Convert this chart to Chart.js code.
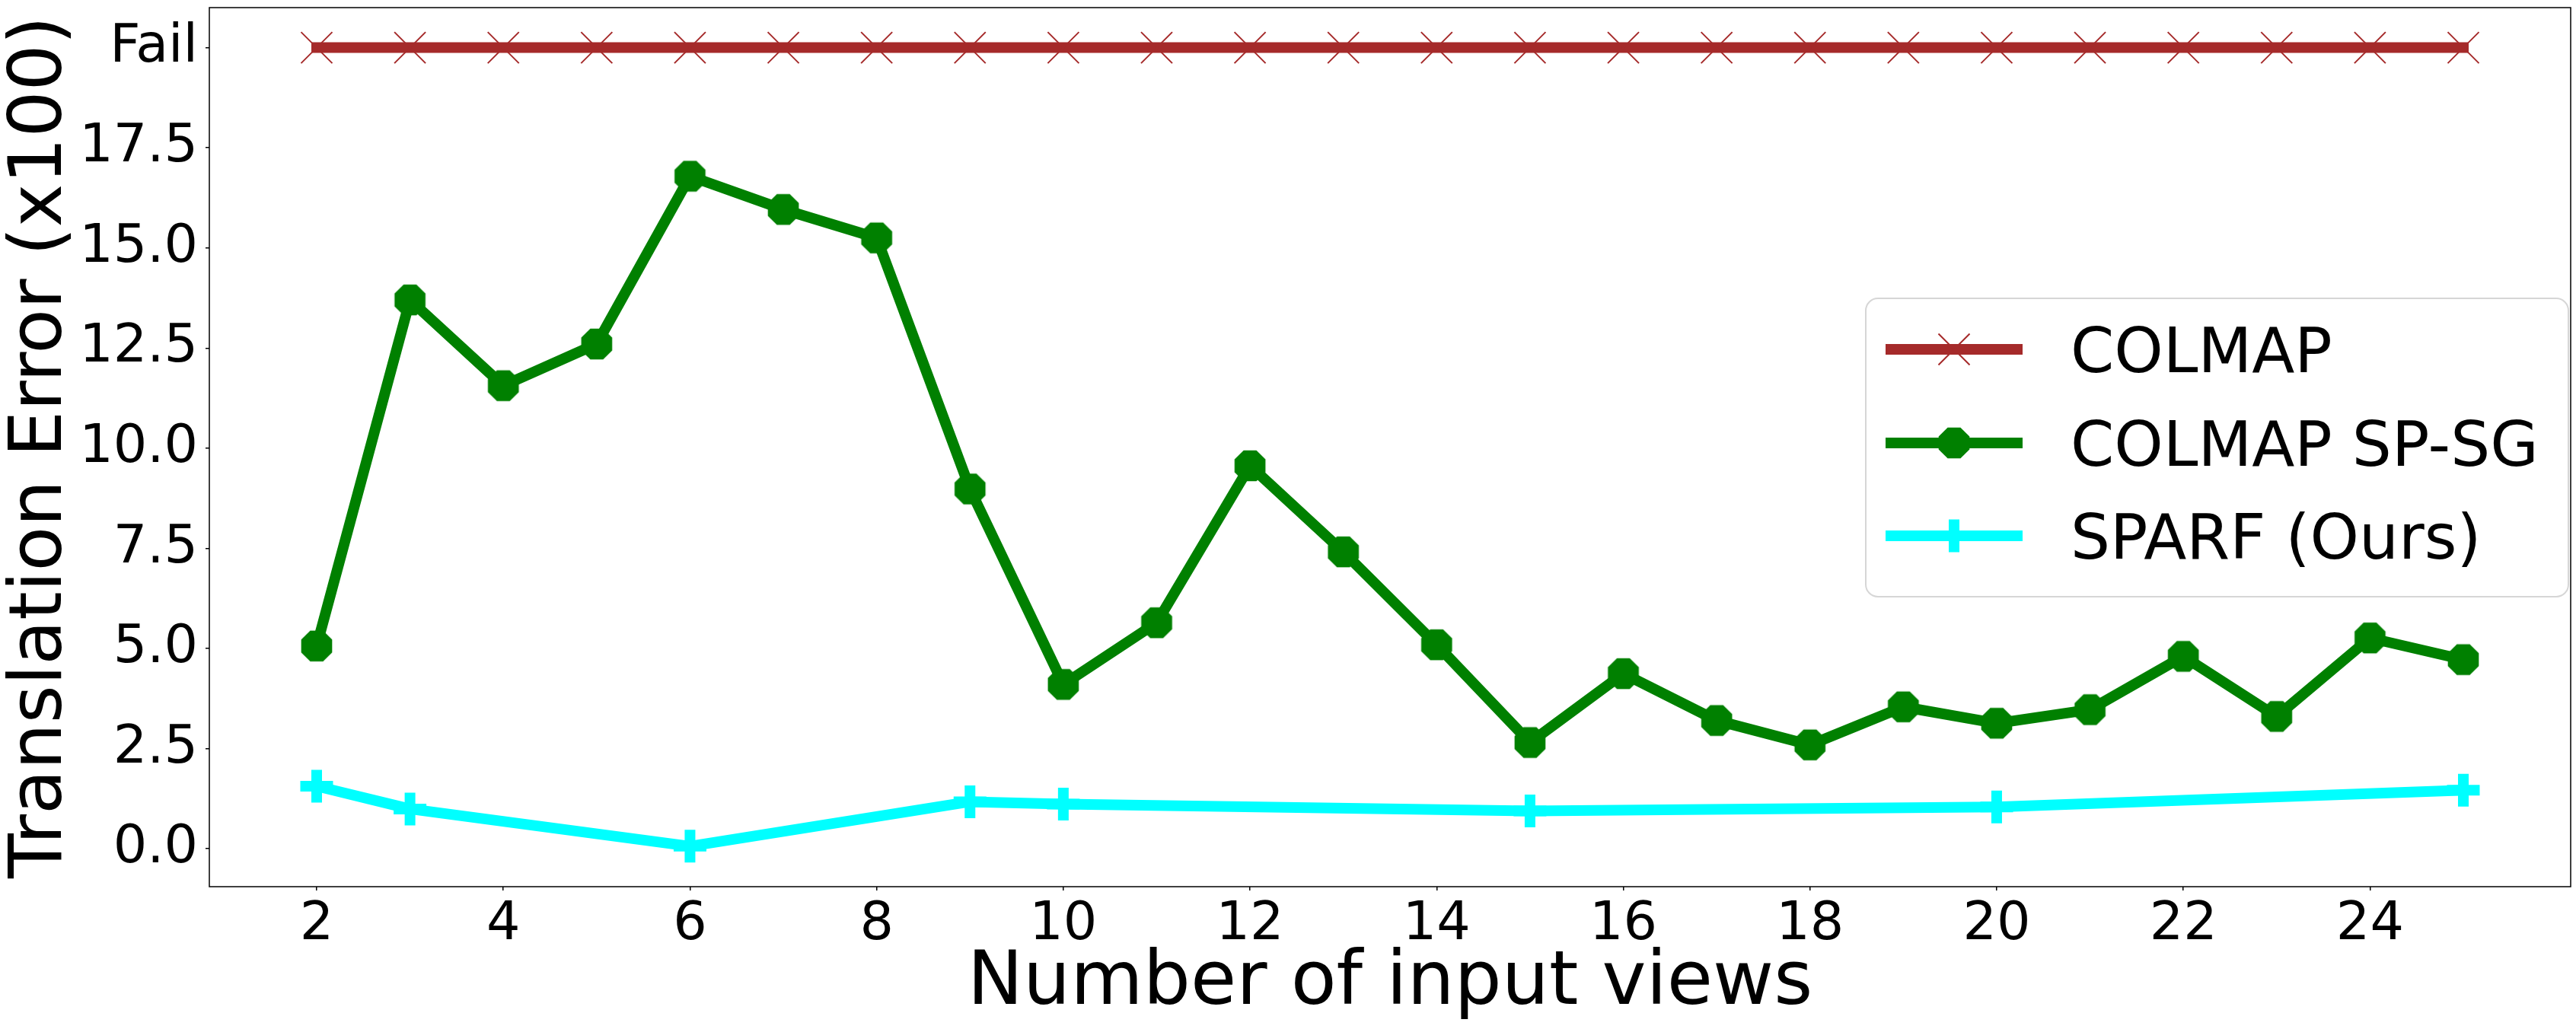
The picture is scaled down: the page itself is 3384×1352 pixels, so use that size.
<!DOCTYPE html>
<html>
<head>
<meta charset="utf-8">
<script src="https://cdn.jsdelivr.net/npm/chart.js@4.4.0/dist/chart.umd.min.js"></script>
<style>
  html, body { margin: 0; padding: 0; background: #fff; }
  canvas { display: block; }
</style>
</head>
<body>
<canvas id="errorChart" width="3384" height="1352"></canvas>
<script>
// number of input views (x) and translation error x100 (y); 20 stands for "Fail"
const views = [2, 3, 4, 5, 6, 7, 8, 9, 10, 11, 12, 13, 14, 15, 16, 17, 18, 19, 20, 21, 22, 23, 24, 25];
const colmapError = [20, 20, 20, 20, 20, 20, 20, 20, 20, 20, 20, 20, 20, 20, 20, 20, 20, 20, 20, 20, 20, 20, 20, 20];
const spsgError = [5.06, 13.7, 11.56, 12.6, 16.79, 15.96, 15.25, 8.98, 4.1, 5.64, 9.56, 7.41, 5.09, 2.65, 4.37, 3.2, 2.59, 3.54, 3.13, 3.47, 4.8, 3.3, 5.26, 4.72];
const sparfViews = [2, 3, 6, 9, 10, 15, 20, 25];
const sparfError = [1.56, 0.99, 0.06, 1.17, 1.11, 0.94, 1.04, 1.46];

const xTicks = [2, 4, 6, 8, 10, 12, 14, 16, 18, 20, 22, 24];
const yTicks = [0, 2.5, 5, 7.5, 10, 12.5, 15, 17.5, 20];
const yTickLabels = ["0.0", "2.5", "5.0", "7.5", "10.0", "12.5", "15.0", "17.5", "Fail"];

const FONT = "DejaVu Sans";

// matplotlib style octagon marker ("8")
function octagon(size, color) {
  const c = document.createElement("canvas");
  c.width = c.height = size;
  const g = c.getContext("2d");
  const r = size / 2;
  g.fillStyle = color;
  g.beginPath();
  for (let k = 0; k < 8; k++) {
    const a = Math.PI / 8 + k * Math.PI / 4;
    const px = r + r * Math.cos(a), py = r + r * Math.sin(a);
    if (k === 0) g.moveTo(px, py); else g.lineTo(px, py);
  }
  g.closePath();
  g.fill();
  return c;
}
const octo = octagon(44, "#008000");

function pairs(xs, ys) {
  return xs.map((x, i) => ({ x: x, y: ys[i] }));
}

// draws a legend marker the same way the dataset does
function drawMarker(ctx, ds, x, y) {
  ctx.save();
  if (ds.pointStyle instanceof HTMLCanvasElement) {
    ctx.drawImage(ds.pointStyle, x - ds.pointStyle.width / 2, y - ds.pointStyle.height / 2);
  } else {
    ctx.strokeStyle = ds.pointBorderColor;
    ctx.lineWidth = ds.pointBorderWidth;
    const r = ds.pointRadius;
    ctx.beginPath();
    if (ds.pointStyle === "crossRot") {
      const o = r * Math.SQRT1_2;
      ctx.moveTo(x - o, y - o); ctx.lineTo(x + o, y + o);
      ctx.moveTo(x + o, y - o); ctx.lineTo(x - o, y + o);
    } else {
      ctx.moveTo(x - r, y); ctx.lineTo(x + r, y);
      ctx.moveTo(x, y - r); ctx.lineTo(x, y + r);
    }
    ctx.stroke();
  }
  ctx.restore();
}

const frameAndLegend = {
  id: "frameAndLegend",
  afterDatasetsDraw(chart) {
    const { ctx, chartArea: a } = chart;
    ctx.save();
    ctx.strokeStyle = "#000";
    ctx.lineWidth = 1.5;
    ctx.strokeRect(a.left, a.top, a.right - a.left, a.bottom - a.top);
    ctx.restore();
  },
  afterDraw(chart) {
    const ctx = chart.ctx;
    const a = chart.chartArea;
    const boxR = a.right - 3, boxL = 2451, boxT = 392, boxB = 784;
    ctx.save();
    ctx.beginPath();
    ctx.roundRect(boxL, boxT, boxR - boxL, boxB - boxT, 16);
    ctx.fillStyle = "rgba(255,255,255,0.8)";
    ctx.fill();
    ctx.strokeStyle = "#d6d6d6";
    ctx.lineWidth = 2;
    ctx.stroke();

    const rows = [459, 582, 704];
    chart.data.datasets.forEach((ds, i) => {
      const y = rows[i];
      ctx.strokeStyle = ds.borderColor;
      ctx.lineWidth = ds.borderWidth;
      ctx.lineCap = "butt";
      ctx.beginPath();
      ctx.moveTo(2477, y);
      ctx.lineTo(2657, y);
      ctx.stroke();
      drawMarker(ctx, ds, 2567, y);
      ctx.fillStyle = "#000";
      ctx.font = "82px '" + FONT + "'";
      ctx.textBaseline = "alphabetic";
      ctx.textAlign = "left";
      ctx.fillText(ds.label, 2720, y + 30);
    });
    ctx.restore();
  }
};

const data = {
  datasets: [
    {
      label: "COLMAP",
      data: pairs(views, colmapError),
      borderColor: "#a52a2a",
      backgroundColor: "#a52a2a",
      borderWidth: 14,
      borderCapStyle: "square",
      borderJoinStyle: "round",
      pointStyle: "crossRot",
      pointRadius: 29,
      pointBorderWidth: 2,
      pointBorderColor: "#a52a2a",
      pointBackgroundColor: "#a52a2a",
      order: 3
    },
    {
      label: "COLMAP SP-SG",
      data: pairs(views, spsgError),
      borderColor: "#008000",
      backgroundColor: "#008000",
      borderWidth: 14,
      borderCapStyle: "square",
      borderJoinStyle: "round",
      pointStyle: octo,
      pointRadius: 22,
      pointBorderWidth: 0,
      order: 2
    },
    {
      label: "SPARF (Ours)",
      data: pairs(sparfViews, sparfError),
      borderColor: "#00ffff",
      backgroundColor: "#00ffff",
      borderWidth: 14,
      borderCapStyle: "square",
      borderJoinStyle: "round",
      pointStyle: "cross",
      pointRadius: 21.5,
      pointBorderWidth: 14,
      pointBorderColor: "#00ffff",
      order: 1
    }
  ]
};

const config = {
  type: "line",
  data: data,
  options: {
    responsive: false,
    animation: false,
    devicePixelRatio: 1,
    layout: { autoPadding: false, padding: { top: 10, right: 7, left: 0, bottom: 0 } },
    plugins: { legend: { display: false }, tooltip: { enabled: false } },
    elements: { line: { tension: 0 } },
    scales: {
      x: {
        type: "linear",
        min: 0.85,
        max: 26.15,
        afterBuildTicks: (s) => { s.ticks = xTicks.map(v => ({ value: v })); },
        afterFit: (s) => { s.height = 187; s.paddingLeft = 0; s.paddingRight = 0; },
        ticks: {
          color: "#000",
          font: { family: FONT, size: 70 },
          padding: 4,
          maxRotation: 0,
          autoSkip: false,
          callback: (v) => String(v)
        },
        grid: { drawOnChartArea: false, drawTicks: true, tickLength: 5, color: "#000", lineWidth: 1.5 },
        border: { display: false },
        title: {
          display: true,
          text: "Number of input views",
          color: "#000",
          font: { family: FONT, size: 98, lineHeight: 1.1 },
          padding: { top: 0, bottom: 5 }
        }
      },
      y: {
        type: "linear",
        min: -0.95,
        max: 21.0,
        afterBuildTicks: (s) => { s.ticks = yTicks.map(v => ({ value: v })); },
        afterFit: (s) => { s.width = 275; s.paddingTop = 0; s.paddingBottom = 0; },
        ticks: {
          color: "#000",
          font: { family: FONT, size: 70 },
          padding: 10,
          autoSkip: false,
          callback: (v, i) => yTickLabels[i]
        },
        grid: { drawOnChartArea: false, drawTicks: true, tickLength: 5, color: "#000", lineWidth: 1.5 },
        border: { display: false },
        title: {
          display: true,
          text: "Translation Error (x100)",
          color: "#000",
          font: { family: FONT, size: 96, lineHeight: 1.1 },
          padding: { top: 2, bottom: 0 }
        }
      }
    }
  },
  plugins: [frameAndLegend]
};

new Chart(document.getElementById("errorChart").getContext("2d"), config);
</script>
</body>
</html>
